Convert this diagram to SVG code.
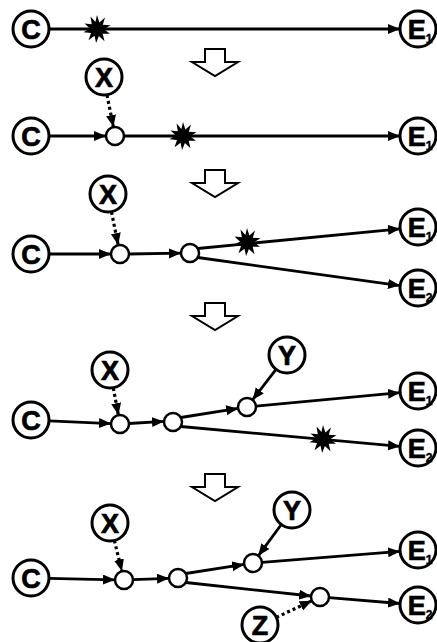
<svg xmlns="http://www.w3.org/2000/svg" xmlns:xlink="http://www.w3.org/1999/xlink" width="437" height="642" viewBox="0 0 437 642">
<style>
.n{fill:#fff;stroke:#000;stroke-width:3}
.s{fill:#fff;stroke:#000;stroke-width:2.5}
.t{font-family:"Liberation Sans",Arial,sans-serif;font-weight:bold;font-size:27px;text-anchor:middle;fill:#000;stroke:#000;stroke-width:0.7}
.sub{font-size:12px;stroke-width:0.4}
.e{stroke:#000;stroke-width:2.8;fill:none;marker-end:url(#ah)}
.d{stroke:#000;stroke-width:3.2;fill:none;stroke-dasharray:3 3;marker-end:url(#ah)}
.big{fill:#fff;stroke:#000;stroke-width:2}
</style>
<defs>
<marker id="ah" markerUnits="userSpaceOnUse" markerWidth="13" markerHeight="11" refX="12" refY="5" orient="auto">
<path d="M0,0 L12,5 L0,10 z" fill="#000"/>
</marker>
<path id="star" d="M0,-14 L2.4,-6.6 L8,-11.4 L5.8,-4.3 L13.5,-3.8 L7,0.2 L13,4.8 L5.7,4.7 L7.5,12.3 L1.9,7 L-0.9,14 L-2.5,6.8 L-8.5,11.2 L-6,4.1 L-13.5,3.2 L-7,-0.6 L-12.5,-5.6 L-5.2,-4.8 L-6.5,-12.5 L-1.6,-7 z" fill="#000"/>
<path id="bigarrow" d="M205,0 H225 V13 H238 L215,27 L192,13 H205 Z"/>
</defs>

<!-- transition arrows -->
<g id="steps">
<use xlink:href="#bigarrow" class="big" transform="translate(0,49)"/>
<use xlink:href="#bigarrow" class="big" transform="translate(0,170)"/>
<use xlink:href="#bigarrow" class="big" transform="translate(0,303)"/>
<use xlink:href="#bigarrow" class="big" transform="translate(0,474)"/>
</g>

<g id="connectors">
<!-- panel 1 -->
<line class="e" x1="49" y1="29" x2="400" y2="29"/>
<!-- panel 2 -->
<line class="e" x1="49" y1="136" x2="106" y2="136"/>
<line class="e" x1="124" y1="136" x2="400" y2="136"/>
<line class="d" x1="107" y1="95" x2="113.4" y2="127"/>
<!-- panel 3 -->
<line class="e" x1="49" y1="254" x2="111" y2="254"/>
<line class="e" x1="129" y1="254" x2="181" y2="253.2"/>
<line class="d" x1="111.5" y1="212" x2="118.2" y2="245"/>
<line class="e" x1="197.8" y1="248.5" x2="400" y2="228.8"/>
<line class="e" x1="197.8" y1="257.5" x2="400" y2="285.6"/>
<!-- panel 4 -->
<line class="e" x1="49" y1="420.8" x2="111" y2="423.6"/>
<line class="e" x1="129" y1="423.5" x2="164" y2="421.4"/>
<line class="d" x1="113.3" y1="388" x2="118.4" y2="415"/>
<line class="e" x1="180.8" y1="417.5" x2="238.1" y2="408.4"/>
<line class="e" x1="276" y1="369.3" x2="252.5" y2="399.9"/>
<line class="e" x1="256" y1="406.2" x2="400" y2="392.7"/>
<line class="e" x1="180.8" y1="426.5" x2="400" y2="446.4"/>
<!-- panel 5 -->
<line class="e" x1="49" y1="578.4" x2="115" y2="579.8"/>
<line class="e" x1="133" y1="579.7" x2="169" y2="578.3"/>
<line class="d" x1="114.3" y1="540.5" x2="121.9" y2="571.3"/>
<line class="e" x1="185.8" y1="573.5" x2="244.1" y2="564.4"/>
<line class="e" x1="281.3" y1="524.5" x2="258.3" y2="555.8"/>
<line class="e" x1="262" y1="562.3" x2="400" y2="551.4"/>
<line class="e" x1="185.8" y1="582.5" x2="311.1" y2="596"/>
<line class="e" x1="329" y1="597.7" x2="400" y2="603.5"/>
<line class="d" x1="276.3" y1="617.4" x2="311.8" y2="600.8"/>
</g>

<g id="failures">
<use xlink:href="#star" x="97" y="29"/>
<use xlink:href="#star" x="183" y="136"/>
<use xlink:href="#star" x="247" y="242"/>
<use xlink:href="#star" x="323" y="439"/>
</g>

<!-- panel 1 nodes -->
<g id="p1-C"><circle class="n" cx="31" cy="29" r="18"/><text class="t" x="31" y="39">C</text></g>
<g id="p1-E1"><circle class="n" cx="418" cy="29" r="18"/><text class="t" x="420" y="39">E<tspan class="sub" dy="4">1</tspan></text></g>

<!-- panel 2 nodes -->
<g id="p2-X"><circle class="n" cx="104" cy="77" r="18"/><text class="t" x="104" y="87">X</text></g>
<g id="p2-C"><circle class="n" cx="31" cy="136" r="18"/><text class="t" x="31" y="146">C</text></g>
<g id="p2-j1"><circle class="s" cx="115" cy="136" r="9"/></g>
<g id="p2-E1"><circle class="n" cx="418" cy="136" r="18"/><text class="t" x="420" y="146">E<tspan class="sub" dy="4">1</tspan></text></g>

<!-- panel 3 nodes -->
<g id="p3-X"><circle class="n" cx="108" cy="194" r="18"/><text class="t" x="108" y="204">X</text></g>
<g id="p3-C"><circle class="n" cx="31" cy="254" r="18"/><text class="t" x="31" y="264">C</text></g>
<g id="p3-j1"><circle class="s" cx="120" cy="254" r="9"/></g>
<g id="p3-j2"><circle class="s" cx="190" cy="253" r="9"/></g>
<g id="p3-E1"><circle class="n" cx="418" cy="227" r="18"/><text class="t" x="420" y="237">E<tspan class="sub" dy="4">1</tspan></text></g>
<g id="p3-E2"><circle class="n" cx="418" cy="288" r="18"/><text class="t" x="420" y="298">E<tspan class="sub" dy="4">2</tspan></text></g>

<!-- panel 4 nodes -->
<g id="p4-X"><circle class="n" cx="110" cy="370" r="18"/><text class="t" x="110" y="380">X</text></g>
<g id="p4-Y"><circle class="n" cx="287" cy="355" r="18"/><text class="t" x="287" y="365">Y</text></g>
<g id="p4-C"><circle class="n" cx="31" cy="420" r="18"/><text class="t" x="31" y="430">C</text></g>
<g id="p4-j1"><circle class="s" cx="120" cy="424" r="9"/></g>
<g id="p4-j2"><circle class="s" cx="173" cy="422" r="9"/></g>
<g id="p4-j3"><circle class="s" cx="247" cy="407" r="9"/></g>
<g id="p4-E1"><circle class="n" cx="418" cy="391" r="18"/><text class="t" x="420" y="401">E<tspan class="sub" dy="4">1</tspan></text></g>
<g id="p4-E2"><circle class="n" cx="418" cy="448" r="18"/><text class="t" x="420" y="458">E<tspan class="sub" dy="4">2</tspan></text></g>

<!-- panel 5 nodes -->
<g id="p5-X"><circle class="n" cx="110" cy="523" r="18"/><text class="t" x="110" y="533">X</text></g>
<g id="p5-Y"><circle class="n" cx="292" cy="510" r="18"/><text class="t" x="292" y="520">Y</text></g>
<g id="p5-C"><circle class="n" cx="31" cy="578" r="18"/><text class="t" x="31" y="588">C</text></g>
<g id="p5-j1"><circle class="s" cx="124" cy="580" r="9"/></g>
<g id="p5-j2"><circle class="s" cx="178" cy="578" r="9"/></g>
<g id="p5-j3"><circle class="s" cx="253" cy="563" r="9"/></g>
<g id="p5-j4"><circle class="s" cx="320" cy="597" r="9"/></g>
<g id="p5-Z"><circle class="n" cx="260" cy="625" r="18"/><text class="t" x="260" y="635">Z</text></g>
<g id="p5-E1"><circle class="n" cx="418" cy="550" r="18"/><text class="t" x="420" y="560">E<tspan class="sub" dy="4">1</tspan></text></g>
<g id="p5-E2"><circle class="n" cx="418" cy="605" r="18"/><text class="t" x="420" y="615">E<tspan class="sub" dy="4">2</tspan></text></g>
</svg>
